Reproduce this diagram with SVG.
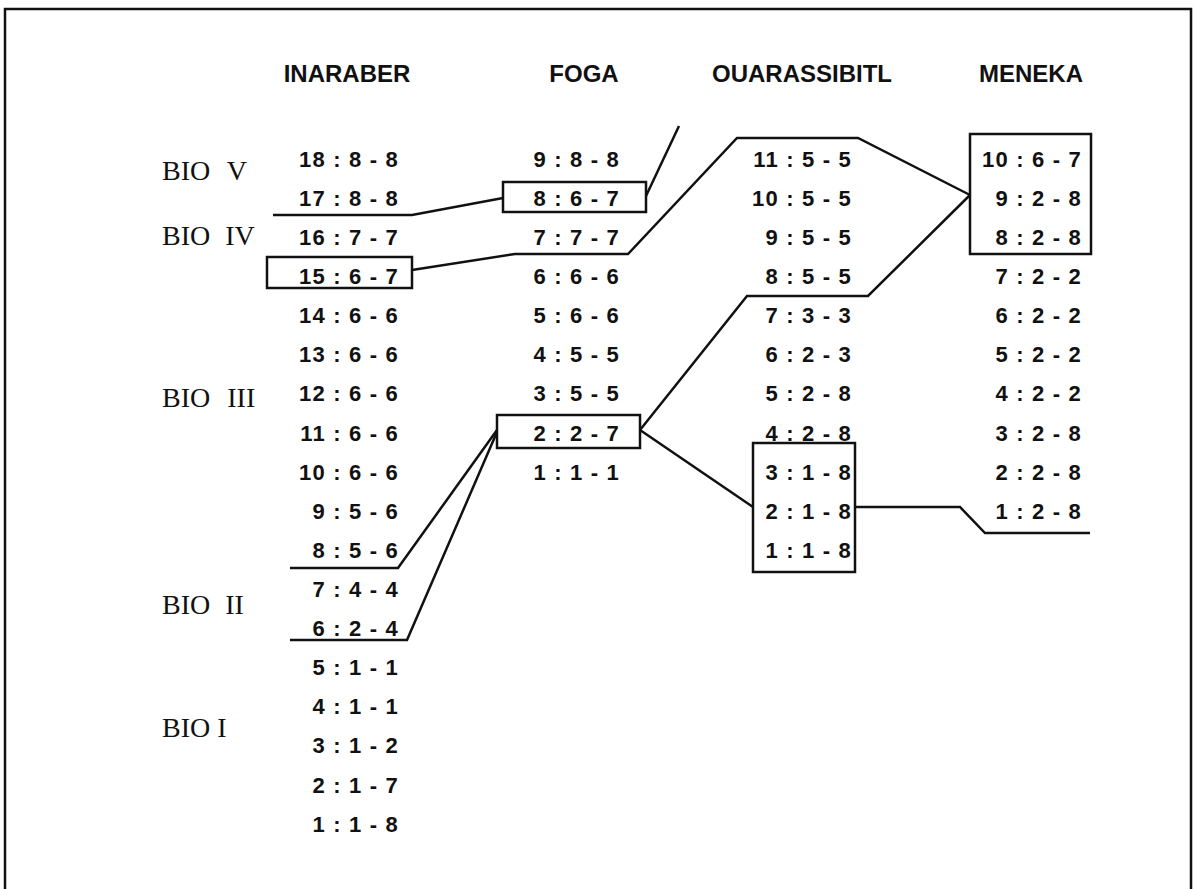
<svg xmlns="http://www.w3.org/2000/svg" width="1194" height="889" viewBox="0 0 1194 889">
<style>
.hd{font-family:"Liberation Sans",Arial,sans-serif;font-weight:bold;font-size:24px;text-anchor:middle;fill:#111}
.v{font-family:"Liberation Sans",Arial,sans-serif;font-weight:bold;font-size:22px;letter-spacing:1.2px;text-anchor:end;fill:#111}
.bio{font-family:"Liberation Serif","Times New Roman",serif;font-size:28px;fill:#111}
.box{fill:none;stroke:#111;stroke-width:2.5}
.ln{fill:none;stroke:#111;stroke-width:2.5;stroke-linejoin:miter}
</style>
<rect x="0" y="0" width="1194" height="889" fill="#fff"/>
<rect id="frame" x="5" y="9" width="1186" height="900" fill="none" stroke="#111" stroke-width="2.5"/>

<g id="headers">
<text class="hd" x="347" y="82">INARABER</text>
<text class="hd" x="584" y="82">FOGA</text>
<text class="hd" x="802" y="82">OUARASSIBITL</text>
<text class="hd" x="1031" y="82">MENEKA</text>
</g>

<g id="bio-labels">
<text class="bio" x="162" y="180">BIO <tspan dx="10">V</tspan></text>
<text class="bio" x="162" y="245">BIO <tspan dx="8">IV</tspan></text>
<text class="bio" x="162" y="407">BIO <tspan dx="10">III</tspan></text>
<text class="bio" x="162" y="614">BIO <tspan dx="8">II</tspan></text>
<text class="bio" x="162" y="737">BIO I</text>
</g>

<g id="inaraber">
<text class="v" x="399" y="167">18 : 8 - 8</text>
<text class="v" x="399" y="206">17 : 8 - 8</text>
<text class="v" x="399" y="245">16 : 7 - 7</text>
<g id="inaraber-15"><rect class="box" x="267" y="257" width="145" height="31"/><text class="v" x="399" y="284">15 : 6 - 7</text></g>
<text class="v" x="399" y="323">14 : 6 - 6</text>
<text class="v" x="399" y="362">13 : 6 - 6</text>
<text class="v" x="399" y="401">12 : 6 - 6</text>
<text class="v" x="399" y="441">11 : 6 - 6</text>
<text class="v" x="399" y="480">10 : 6 - 6</text>
<text class="v" x="399" y="519">9 : 5 - 6</text>
<text class="v" x="399" y="558">8 : 5 - 6</text>
<text class="v" x="399" y="597">7 : 4 - 4</text>
<text class="v" x="399" y="636">6 : 2 - 4</text>
<text class="v" x="399" y="675">5 : 1 - 1</text>
<text class="v" x="399" y="714">4 : 1 - 1</text>
<text class="v" x="399" y="753">3 : 1 - 2</text>
<text class="v" x="399" y="793">2 : 1 - 7</text>
<text class="v" x="399" y="832">1 : 1 - 8</text>
</g>

<g id="foga">
<text class="v" x="620" y="167">9 : 8 - 8</text>
<g id="foga-8"><rect class="box" x="503" y="182" width="143" height="30"/><text class="v" x="620" y="206">8 : 6 - 7</text></g>
<text class="v" x="620" y="245">7 : 7 - 7</text>
<text class="v" x="620" y="284">6 : 6 - 6</text>
<text class="v" x="620" y="323">5 : 6 - 6</text>
<text class="v" x="620" y="362">4 : 5 - 5</text>
<text class="v" x="620" y="401">3 : 5 - 5</text>
<g id="foga-2"><rect class="box" x="497" y="415" width="143" height="33"/><text class="v" x="620" y="441">2 : 2 - 7</text></g>
<text class="v" x="620" y="480">1 : 1 - 1</text>
</g>

<g id="ouarassibitl">
<text class="v" x="852" y="167">11 : 5 - 5</text>
<text class="v" x="852" y="206">10 : 5 - 5</text>
<text class="v" x="852" y="245">9 : 5 - 5</text>
<text class="v" x="852" y="284">8 : 5 - 5</text>
<text class="v" x="852" y="323">7 : 3 - 3</text>
<text class="v" x="852" y="362">6 : 2 - 3</text>
<text class="v" x="852" y="401">5 : 2 - 8</text>
<text class="v" x="852" y="441">4 : 2 - 8</text>
<g id="ouarassibitl-1-3"><rect class="box" x="753" y="443" width="102" height="129"/>
<text class="v" x="852" y="480">3 : 1 - 8</text>
<text class="v" x="852" y="519">2 : 1 - 8</text>
<text class="v" x="852" y="558">1 : 1 - 8</text></g>
</g>

<g id="meneka">
<g id="meneka-8-10"><rect class="box" x="970" y="134" width="121" height="120"/>
<text class="v" x="1082" y="167">10 : 6 - 7</text>
<text class="v" x="1082" y="206">9 : 2 - 8</text>
<text class="v" x="1082" y="245">8 : 2 - 8</text></g>
<text class="v" x="1082" y="284">7 : 2 - 2</text>
<text class="v" x="1082" y="323">6 : 2 - 2</text>
<text class="v" x="1082" y="362">5 : 2 - 2</text>
<text class="v" x="1082" y="401">4 : 2 - 2</text>
<text class="v" x="1082" y="441">3 : 2 - 8</text>
<text class="v" x="1082" y="480">2 : 2 - 8</text>
<text class="v" x="1082" y="519">1 : 2 - 8</text>
</g>

<g id="connectors">
<polyline class="ln" points="273,215 412,215 503,198"/>
<polyline class="ln" points="646,196 679,126"/>
<polyline class="ln" points="412,270 515,254 628,254 737,138 858,138 970,195"/>
<polyline class="ln" points="970,195 868,296 747,296 640,430"/>
<polyline class="ln" points="290,568 398,568 497,430"/>
<polyline class="ln" points="290,640 407,640 497,432"/>
<polyline class="ln" points="640,430 753,507"/>
<polyline class="ln" points="855,507 960,507 985,533 1090,533"/>
</g>
</svg>
